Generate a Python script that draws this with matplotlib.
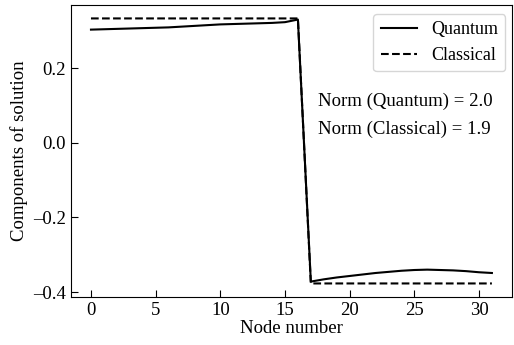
import numpy as np
import matplotlib
matplotlib.use("Agg")
import matplotlib.pyplot as plt

plt.rcParams['font.family'] = ['Liberation Serif', 'DejaVu Serif']
plt.rcParams['mathtext.fontset'] = 'stix'

# data
nodes = np.arange(32)
quantum = [0.303, 0.304, 0.305, 0.306, 0.307, 0.308, 0.309, 0.311, 0.313,
           0.315, 0.317, 0.318, 0.319, 0.320, 0.321, 0.323, 0.330,
           -0.372, -0.366, -0.361, -0.357, -0.353, -0.349, -0.346, -0.343,
           -0.341, -0.340, -0.341, -0.342, -0.344, -0.347, -0.349]
classical = [0.333] * 17 + [-0.377] * 15
norm_q = 2.0
norm_c = 1.9
yticks = [-0.4, -0.2, 0.0, 0.2]

fs = 13.5
fig, ax = plt.subplots(figsize=(5.14, 3.45), dpi=100)
ax.plot(nodes, quantum, color='black', linestyle='-', lw=1.5, label='Quantum')
ax.plot(nodes, classical, color='black', linestyle='--', lw=1.5, label='Classical')

ax.set_xlabel('Node number', fontsize=fs, labelpad=1)
ax.set_ylabel('Components of solution', fontsize=fs)
ax.set_xticks([0, 5, 10, 15, 20, 25, 30])
ax.set_yticks(yticks)
# long minus like the original
ax.set_yticklabels([f'{v:.1f}'.replace('-', '\u2013') for v in yticks])
ax.tick_params(direction='in', labelsize=fs, length=5)

ax.text(0.56, 0.67, f'Norm (Quantum) = {norm_q:.1f}', transform=ax.transAxes,
        fontsize=fs, va='center')
ax.text(0.56, 0.575, f'Norm (Classical) = {norm_c:.1f}', transform=ax.transAxes,
        fontsize=fs, va='center')

ax.legend(loc='upper right', fontsize=13, bbox_to_anchor=(0.985, 0.97),
          borderaxespad=0)

plt.subplots_adjust(left=0.138, right=0.996, top=0.985, bottom=0.14)
plt.savefig('out.png', dpi=100)
